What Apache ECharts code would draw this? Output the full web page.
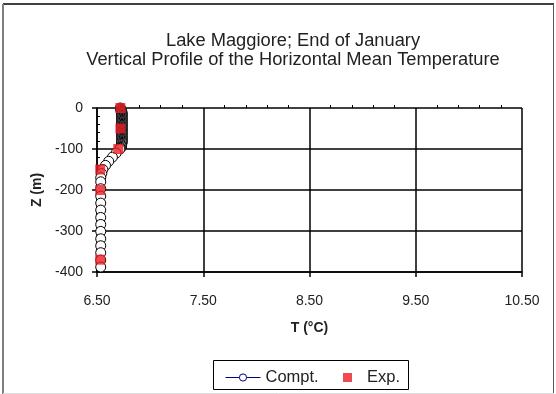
<!DOCTYPE html>
<html>
<head>
<meta charset="utf-8">
<title>Lake Maggiore temperature profile</title>
<script src="https://cdn.jsdelivr.net/npm/echarts@6/dist/echarts.min.js"></script>
<style>
  html, body { margin: 0; padding: 0; background: #fff; }
  #chart { width: 556px; height: 394px; }
</style>
</head>
<body>
<div id="chart"></div>
<script>
// Computed profile: depth (m) and horizontal mean temperature (°C)
const comptDepth = [
  0, -2, -4, -6, -8, -10, -12, -14, -16, -18, -20, -22, -24, -26, -28, -30,
  -32, -34, -36, -38, -40, -42, -44, -46, -48, -50, -52, -54, -56, -58, -60,
  -62, -64, -66, -68, -70, -72, -74, -76, -78, -80, -82, -84, -86, -88, -90,
  -92, -94, -96, -98, -100,
  -110, -120, -130, -140, -150, -160, -170, -180,
  -197, -215, -232, -249, -267, -284, -301, -319, -336, -353, -371, -388
];
const comptTemp = [
  6.72, 6.72, 6.725, 6.73, 6.73, 6.735, 6.735, 6.735, 6.735, 6.735, 6.735, 6.735, 6.735, 6.735, 6.735, 6.735,
  6.735, 6.735, 6.735, 6.735, 6.735, 6.735, 6.735, 6.735, 6.735, 6.735, 6.735, 6.735, 6.735, 6.735, 6.735,
  6.735, 6.735, 6.735, 6.735, 6.735, 6.735, 6.735, 6.735, 6.735, 6.735, 6.735, 6.735, 6.735, 6.73, 6.73,
  6.73, 6.73, 6.725, 6.72, 6.715,
  6.68, 6.645, 6.61, 6.58, 6.555, 6.545, 6.535, 6.535,
  6.535, 6.535, 6.535, 6.535, 6.535, 6.535, 6.535, 6.535, 6.535, 6.535, 6.535, 6.535
];

// Measured profile
const expDepth = [0, -50, -100, -150, -200, -370];
const expTemp = [6.72, 6.72, 6.70, 6.53, 6.53, 6.53];

const xTicks = { min: 6.5, max: 10.5, step: 1 };
const yTicks = { min: -400, max: 0, step: 100 };

const FONT = '"Liberation Sans", Arial, sans-serif';
const TXT = '#222';

const comptData = comptDepth.map((z, i) => [comptTemp[i], z]);
const expData = expDepth.map((z, i) => [expTemp[i], z]);

const chart = echarts.init(document.getElementById('chart'), null, { renderer: 'canvas' });

const baseX = {
  type: 'value',
  min: xTicks.min,
  max: xTicks.max,
  interval: xTicks.step,
  position: 'bottom'
};
const baseY = {
  type: 'value',
  min: yTicks.min,
  max: yTicks.max,
  interval: yTicks.step,
  position: 'left'
};

chart.setOption({
  animation: false,
  backgroundColor: '#fff',
  textStyle: { fontFamily: FONT },
  title: {
    text: 'Lake Maggiore; End of January\nVertical Profile of the Horizontal Mean Temperature',
    left: 288,
    top: 26,
    textAlign: 'center',
    textStyle: { fontFamily: FONT, fontSize: 18.3, fontWeight: 'normal', color: TXT, lineHeight: 19.5 }
  },
  grid: { left: 97, right: 34, top: 108, bottom: 122 },
  xAxis: [
    Object.assign({}, baseX, {
      name: 'T (°C)',
      nameLocation: 'middle',
      nameGap: 49,
      nameTextStyle: { fontFamily: FONT, fontSize: 14, fontWeight: 'bold', color: TXT },
      axisLine: { show: true, onZero: false, lineStyle: { color: '#000', width: 1.5 } },
      axisTick: { show: true, inside: false, length: 5, lineStyle: { color: '#000', width: 1.5 } },
      minorTick: { show: false },
      axisLabel: {
        margin: 22, fontFamily: FONT, fontSize: 14, color: TXT,
        formatter: v => v.toFixed(2)
      },
      splitLine: { show: true, lineStyle: { color: '#000', width: 1.5 } }
    }),
    Object.assign({}, baseX, {
      axisLine: { show: false },
      axisTick: { show: false, inside: true },
      minorTick: { show: true, splitNumber: 5, length: 3, lineStyle: { color: '#000', width: 1 } },
      axisLabel: { show: false },
      splitLine: { show: false }
    })
  ],
  yAxis: [
    Object.assign({}, baseY, {
      name: 'Z (m)',
      nameLocation: 'middle',
      nameRotate: 90,
      nameGap: 50,
      nameTextStyle: { fontFamily: FONT, fontSize: 14, fontWeight: 'bold', color: TXT },
      axisLine: { show: true, onZero: false, lineStyle: { color: '#000', width: 1.5 } },
      axisTick: { show: true, inside: false, length: 5, lineStyle: { color: '#000', width: 1.5 } },
      minorTick: { show: false },
      axisLabel: { margin: 14, fontFamily: FONT, fontSize: 14, color: TXT },
      splitLine: { show: true, lineStyle: { color: '#000', width: 1.5 } }
    }),
    Object.assign({}, baseY, {
      axisLine: { show: false },
      axisTick: { show: false, inside: true },
      minorTick: { show: true, splitNumber: 5, length: 3, lineStyle: { color: '#000', width: 1 } },
      axisLabel: { show: false },
      splitLine: { show: false }
    })
  ],
  legend: [
    {
      data: [{
        name: 'Compt.',
        itemStyle: { color: '#fff', borderColor: '#000080', borderWidth: 1 },
        lineStyle: { color: '#000080', width: 1 }
      }],
      left: 225,
      top: 369,
      itemWidth: 35,
      itemHeight: 9,
      padding: 0,
      textStyle: { fontFamily: FONT, fontSize: 16.5, color: TXT }
    },
    {
      data: ['Exp.'],
      left: 343,
      top: 369,
      itemWidth: 9,
      itemHeight: 9,
      padding: 0,
      textStyle: { fontFamily: FONT, fontSize: 16.5, color: TXT, padding: [0, 0, 0, 10] }
    }
  ],
  graphic: [
    // legend frame
    { type: 'rect', shape: { x: 213.5, y: 360.5, width: 195, height: 29 },
      style: { fill: null, stroke: '#000', lineWidth: 1 }, z: 0 },
    // chart frame
    { type: 'line', shape: { x1: 3, y1: 4, x2: 554, y2: 4 }, style: { stroke: '#000', lineWidth: 1.5 } },
    { type: 'line', shape: { x1: 3, y1: 4, x2: 3, y2: 394 }, style: { stroke: '#808080', lineWidth: 2 } },
    { type: 'line', shape: { x1: 553.5, y1: 4, x2: 553.5, y2: 394 }, style: { stroke: '#555', lineWidth: 1 } },
    { type: 'line', shape: { x1: 3, y1: 393.5, x2: 554, y2: 393.5 }, style: { stroke: '#ddd', lineWidth: 1 } }
  ],
  series: [
    {
      name: 'Compt.',
      type: 'line',
      xAxisIndex: 0,
      yAxisIndex: 0,
      data: comptData,
      symbol: 'circle',
      symbolSize: 10,
      showAllSymbol: true,
      lineStyle: { color: '#000080', width: 1 },
      itemStyle: { color: '#fff', borderColor: '#000', borderWidth: 1 },
      z: 3
    },
    {
      name: 'Exp.',
      type: 'scatter',
      xAxisIndex: 0,
      yAxisIndex: 0,
      data: expData,
      symbol: 'rect',
      symbolSize: 10,
      itemStyle: { color: '#ed1c24' },
      z: 4
    }
  ]
});
</script>
</body>
</html>
